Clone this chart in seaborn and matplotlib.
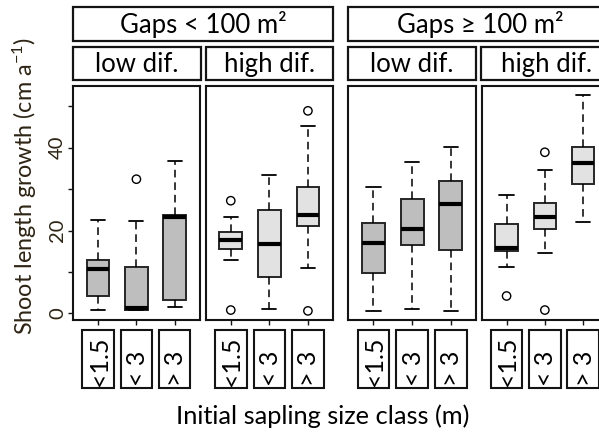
import numpy as np
import pandas as pd
import matplotlib
matplotlib.use("Agg")
import matplotlib.pyplot as plt
import seaborn as sns
from matplotlib.patches import Rectangle
from matplotlib.transforms import blended_transform_factory, offset_copy

# ---------------- data ----------------
size_classes = ["<1.5", "< 3", "> 3"]
gap_labels = ["Gaps < 100 m\u00b2", "Gaps \u2265 100 m\u00b2"]
dif_labels = ["low dif.", "high dif."]
y_ticks = [0, 10, 20, 30, 40, 50]
y_tick_labels = ["0", "", "20", "", "40", ""]

# five-number summaries per size class: lower whisker, Q1, median, Q3, upper whisker
small_low_stats = [[0.9, 4.2, 10.6, 12.9, 22.5],
                   [0.8, 0.9, 1.2, 11.3, 22.2],
                   [1.6, 3.2, 23.3, 23.7, 36.9]]
small_low_out = [[], [32.4], []]

small_high_stats = [[12.9, 15.5, 17.8, 19.6, 23.3],
                    [1.1, 8.7, 16.7, 25.0, 33.3],
                    [10.9, 21.2, 23.7, 30.5, 45.2]]
small_high_out = [[27.2, 0.8], [], [48.9, 0.6]]

large_low_stats = [[0.5, 9.8, 17.0, 21.9, 30.5],
                   [1.1, 16.6, 20.4, 27.5, 36.6],
                   [0.5, 15.4, 26.4, 32.0, 40.2]]
large_low_out = [[], [], []]

large_high_stats = [[11.3, 15.0, 15.7, 21.5, 28.6],
                    [14.5, 20.4, 23.3, 26.7, 34.6],
                    [22.0, 31.2, 36.2, 40.2, 52.7]]
large_high_out = [[4.2], [38.9, 0.8], []]

panel_stats = [small_low_stats, small_high_stats, large_low_stats, large_high_stats]
panel_out = [small_low_out, small_high_out, large_low_out, large_high_out]
panel_fill = ["#bebebe", "#e2e2e2", "#bebebe", "#e2e2e2"]

# ---------------- style ----------------
sns.set_style("white")
FONT = ["Lato", "DejaVu Sans"]
plt.rcParams["font.family"] = FONT
plt.rcParams["mathtext.fontset"] = "custom"
plt.rcParams["mathtext.rm"] = "Lato"
plt.rcParams["mathtext.it"] = "Lato:italic"

W, H = 599, 432
fig = plt.figure(figsize=(W / 100, H / 100), dpi=100)
fig.patch.set_facecolor("white")


def fx(px):
    return px / W


def fy(py):
    return 1 - py / H


TOP, BOT = 86, 320
panel_x = [(73.3, 199.5), (205.7, 333.0), (348.3, 476.0), (481.7, 608.0)]
LABEL_COL = "#2e2414"

axes = []
for k, (x0, x1) in enumerate(panel_x):
    ax = fig.add_axes([fx(x0), fy(BOT), fx(x1) - fx(x0), (BOT - TOP) / H])
    axes.append(ax)
    rows = []
    for cls, st in zip(size_classes, panel_stats[k]):
        for v in st:
            rows.append((cls, v))
    box_df = pd.DataFrame(rows, columns=["size", "value"])
    sns.boxplot(data=box_df, x="size", y="value", order=size_classes, ax=ax,
                whis=(0, 100), width=0.59, color=panel_fill[k], saturation=1,
                linecolor="#262626", linewidth=1.4, fliersize=0,
                medianprops=dict(color="black", linewidth=3.0),
                whiskerprops=dict(color="black", linewidth=1.1,
                                  linestyle=(0, (5.0, 3.2))),
                capprops=dict(color="black", linewidth=1.3),
                capwidths=0.37)
    orows = []
    for cls, outs in zip(size_classes, panel_out[k]):
        for v in outs:
            orows.append((cls, v))
    if orows:
        out_df = pd.DataFrame(orows, columns=["size", "value"])
        sns.stripplot(data=out_df, x="size", y="value", order=size_classes, ax=ax,
                      jitter=False, size=6, color="black", facecolor="none",
                      edgecolor="black", linewidth=1.0, zorder=4)
    ax.set_xlim(-0.65, 2.65)
    ax.set_ylim(-1.6, 54.9)
    ax.set_xlabel("")
    ax.set_ylabel("")
    for sp in ax.spines.values():
        sp.set_visible(True)
        sp.set_linewidth(1.5)
        sp.set_color("#141414")
    ax.set_xticks([0, 1, 2])
    ax.set_xticklabels([])
    ax.tick_params(axis="x", bottom=True, length=3.8, width=1.0, color="#141414")
    if k == 0:
        ax.set_yticks(y_ticks)
        ax.set_yticklabels(y_tick_labels, rotation=90, va="center")
        ax.tick_params(axis="y", left=True, length=3.8, width=1.0, pad=1.5,
                       labelsize=14.5, color="#141414", labelcolor=LABEL_COL)
    else:
        ax.set_yticks([])

    # boxed, rotated category labels below the panel
    tr = blended_transform_factory(ax.transData, fig.transFigure)
    bw = 31.5 / ((x1 - x0) / 3.3)
    for i, lab in enumerate(size_classes):
        ax.add_patch(Rectangle((i - bw / 2, fy(388)), bw, fy(330) - fy(388),
                               transform=tr, fc="white", ec="#141414", lw=1.5,
                               clip_on=False))
        ax.text(i, fy(386), lab, transform=offset_copy(tr, fig=fig, x=8.5, y=0, units="dots"),
                rotation=90, rotation_mode="anchor", ha="left", va="baseline",
                fontsize=18, color="black")


def strip(x0, x1, y0, y1, text, baseline, size):
    fig.add_artist(Rectangle((fx(x0), fy(y1)), fx(x1) - fx(x0), fy(y0) - fy(y1),
                             transform=fig.transFigure, fc="white", ec="#141414",
                             lw=1.6))
    fig.text(fx((x0 + x1) / 2), fy(baseline), text, ha="center", va="baseline",
             fontsize=size, color="black", family=FONT)


# outer strips
strip(73.3, 333.3, 7.3, 41.0, gap_labels[0], 33.3, 18.5)
strip(348.3, 612.0, 7.3, 41.0, gap_labels[1], 33.3, 18.5)
# inner strips
inner = [(73.3, 201.0), (205.7, 333.3), (348.3, 475.7), (480.7, 612.0)]
for k, (x0, x1) in enumerate(inner):
    strip(x0, x1, 46.7, 80.0, dif_labels[k % 2], 71.7, 18.5)

fig.text(fx(323), fy(423.5), "Initial sapling size class (m)", ha="center",
         va="baseline", fontsize=18.3, color="black")
fig.text(fx(33), fy(186), "Shoot length growth (cm a$^{-1}$)", rotation=90,
         rotation_mode="anchor", ha="center", va="baseline", fontsize=16.8,
         color=LABEL_COL)

fig.savefig("out.png", dpi=100, facecolor="white")
